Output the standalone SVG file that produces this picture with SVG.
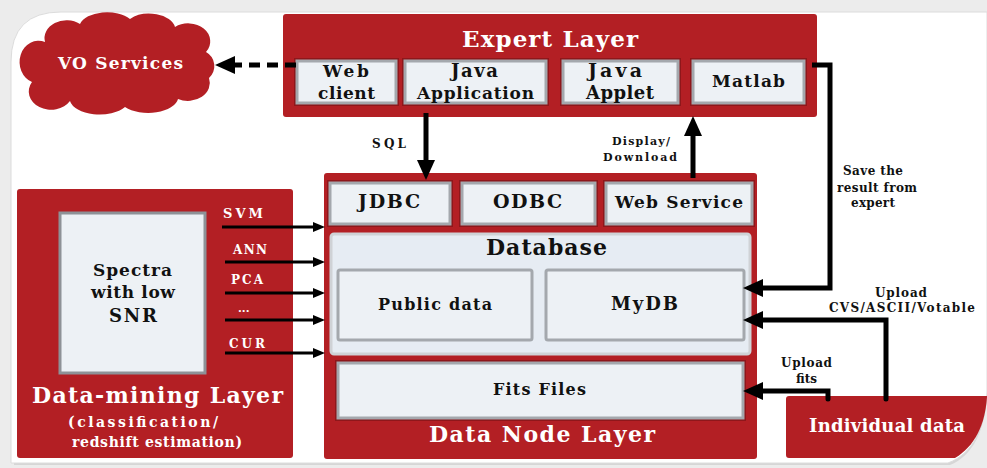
<svg xmlns="http://www.w3.org/2000/svg" width="987" height="468" viewBox="0 0 987 468">
<style>
.red{fill:#b31f24}
.box{fill:#edf1f5;stroke:#a4a8ad;stroke-width:3}
.boxo{fill:none;stroke:#8e171b;stroke-width:2}
.t{font-family:"DejaVu Serif","Liberation Serif",serif;font-weight:bold;fill:#111}
.w{font-family:"DejaVu Serif","Liberation Serif",serif;font-weight:bold;fill:#fff}
.ln{fill:none;stroke:#000;stroke-width:5;stroke-linejoin:miter}
.thin{fill:none;stroke:#000;stroke-width:3}
</style>
<defs>
<marker id="ah" markerUnits="userSpaceOnUse" markerWidth="22" markerHeight="20" refX="6" refY="9" orient="auto"><path d="M0,0 L20,9 L0,18 z" fill="#000"/></marker>
<marker id="as" markerUnits="userSpaceOnUse" markerWidth="14" markerHeight="12" refX="4" refY="5" orient="auto"><path d="M0,0 L12,5 L0,10 z" fill="#000"/></marker>
</defs>
<rect width="987" height="468" fill="#ececec"/>
<path d="M14,64 Q14,15 64,15 H987 V394 C985,432 972,456 950,465 H14 Z" fill="#d6d6d6"/>
<path d="M11,62 Q11,12 61,12 H987 V392 C985,430 972,454 948,463 H11 Z" fill="#fff" stroke="#dcdcdc" stroke-width="1"/>

<g id="vo-services">
<path class="red" d="M45,42 A22,18 0 0 1 80,24 A28,16 0 0 1 130,19 A26,16 0 0 1 175,27 A22,18 0 0 1 206,52 A16,16 0 0 1 209,78 A22,18 0 0 1 178,99 A30,16 0 0 1 125,107 A30,16 0 0 1 70,101 A22,18 0 0 1 32,82 A16,18 0 0 1 45,42 Z"/>
<text class="w" x="58" y="69" font-size="17" textLength="125">VO Services</text>
</g>

<g id="expert-layer">
<rect class="red" x="283" y="14" width="534" height="103" rx="3"/>
<text class="w" x="462" y="47" font-size="23" textLength="176">Expert Layer</text>
</g>
<g id="web-client">
<rect class="boxo" x="295" y="59" width="103" height="46"/>
<rect class="box" x="297" y="61" width="99" height="42"/>
<text class="t" x="323" y="77" font-size="17" textLength="46">Web</text>
<text class="t" x="318" y="99" font-size="17" textLength="57">client</text>
</g>
<g id="java-application">
<rect class="boxo" x="403" y="59" width="145" height="46"/>
<rect class="box" x="405" y="61" width="141" height="42"/>
<text class="t" x="451" y="77" font-size="18" textLength="47">Java</text>
<text class="t" x="417" y="99" font-size="17" textLength="117">Application</text>
</g>
<g id="java-applet">
<rect class="boxo" x="561" y="59" width="119" height="46"/>
<rect class="box" x="563" y="61" width="115" height="42"/>
<text class="t" x="588" y="77" font-size="19" textLength="54">Java</text>
<text class="t" x="586" y="99" font-size="18" textLength="68">Applet</text>
</g>
<g id="matlab">
<rect class="boxo" x="691" y="59" width="115" height="46"/>
<rect class="box" x="693" y="61" width="111" height="42"/>
<text class="t" x="712" y="87" font-size="17" textLength="73">Matlab</text>
</g>

<g id="data-node-layer">
<rect class="red" x="324" y="173" width="433" height="286" rx="3"/>
<text class="w" x="429" y="442" font-size="22" textLength="226">Data Node Layer</text>
</g>
<g id="jdbc">
<rect class="boxo" x="328" y="181" width="124" height="45"/>
<rect class="box" x="330" y="183" width="120" height="41"/>
<text class="t" x="358" y="208" font-size="19" textLength="62">JDBC</text>
</g>
<g id="odbc">
<rect class="boxo" x="460" y="181" width="137" height="45"/>
<rect class="box" x="462" y="183" width="133" height="41"/>
<text class="t" x="493" y="208" font-size="19" textLength="69">ODBC</text>
</g>
<g id="web-service">
<rect class="boxo" x="604" y="181" width="150" height="45"/>
<rect class="box" x="606" y="183" width="146" height="41"/>
<text class="t" x="615" y="208" font-size="17" textLength="128">Web Service</text>
</g>
<g id="database">
<rect x="331" y="234" width="419" height="120" rx="3" fill="#e6ecf3" stroke="#cfd2d6" stroke-width="3"/>
<text class="t" x="486" y="255" font-size="22" textLength="121">Database</text>
</g>
<g id="public-data">
<rect class="box" x="338" y="270" width="194" height="70" rx="2" stroke-width="4"/>
<text class="t" x="378" y="310" font-size="16" textLength="114">Public data</text>
</g>
<g id="mydb">
<rect class="box" x="546" y="270" width="198" height="70" rx="2" stroke-width="4"/>
<text class="t" x="611" y="310" font-size="18" textLength="67">MyDB</text>
</g>
<g id="fits-files">
<rect class="boxo" x="336" y="361" width="409" height="59"/>
<rect class="box" x="338" y="363" width="405" height="55"/>
<text class="t" x="493" y="395" font-size="16" textLength="93">Fits Files</text>
</g>

<g id="data-mining-layer">
<rect class="red" x="17" y="189" width="276" height="269" rx="3"/>
<text class="w" x="32" y="403" font-size="22" textLength="251">Data-mining Layer</text>
<text class="w" x="68" y="427" font-size="14" textLength="150">(classification/</text>
<text class="w" x="72" y="447" font-size="14" textLength="170">redshift estimation)</text>
</g>
<g id="spectra">
<rect x="60" y="213" width="145" height="160" fill="#edf1f5" stroke="#8e9297" stroke-width="3"/>
<text class="t" x="93" y="276" font-size="17" textLength="79">Spectra</text>
<text class="t" x="91" y="298" font-size="17" textLength="84">with low</text>
<text class="t" x="109" y="322" font-size="18" textLength="48">SNR</text>
</g>

<g id="individual-data">
<path class="red" d="M789,396 H987 V397 C985,425 975,446 955,458 H789 Q786,458 786,455 V399 Q786,396 789,396 Z"/>
<text class="w" x="809" y="432" font-size="18" textLength="156">Individual data</text>
</g>

<g id="connectors">
<path class="ln" d="M296,65 H229" stroke-dasharray="11,7" marker-end="url(#ah)"/>
<path class="ln" d="M426,113 V166" marker-end="url(#ah)"/>
<path class="ln" d="M693,178 V130" marker-end="url(#ah)"/>
<path class="ln" d="M812,65 H830 V288 H757" marker-end="url(#ah)"/>
<path class="ln" d="M886,399 V320 H757" stroke-linecap="round" marker-end="url(#ah)"/>
<path class="ln" d="M828,399 V391 H757" stroke-linecap="round" marker-end="url(#ah)"/>
<path class="thin" d="M222,227 H317" marker-end="url(#as)"/>
<path class="thin" d="M225,262 H317" marker-end="url(#as)"/>
<path class="thin" d="M225,293 H317" marker-end="url(#as)"/>
<path class="thin" d="M225,320 H317" marker-end="url(#as)"/>
<path class="thin" d="M225,353 H317" marker-end="url(#as)"/>
<text class="w" x="223" y="218" font-size="13" textLength="40">SVM</text>
<text class="w" x="233" y="254" font-size="12" textLength="34">ANN</text>
<text class="w" x="231" y="284" font-size="12" textLength="32">PCA</text>
<text class="w" x="238" y="312" font-size="11">...</text>
<text class="w" x="229" y="348" font-size="12" textLength="36">CUR</text>
<text class="t" x="372" y="148" font-size="12" textLength="34">SQL</text>
<text class="t" x="612" y="145" font-size="11" textLength="58">Display/</text>
<text class="t" x="603" y="161" font-size="11" textLength="74">Download</text>
<text class="t" x="843" y="175" font-size="12" textLength="60">Save the</text>
<text class="t" x="837" y="192" font-size="12" textLength="80">result from</text>
<text class="t" x="851" y="207" font-size="12" textLength="44">expert</text>
<text class="t" x="875" y="297" font-size="12" textLength="52">Upload</text>
<text class="t" x="829" y="312" font-size="12" textLength="146">CVS/ASCII/Votable</text>
<text class="t" x="781" y="367" font-size="12" textLength="51">Upload</text>
<text class="t" x="796" y="383" font-size="12" textLength="21">fits</text>
</g>
</svg>
